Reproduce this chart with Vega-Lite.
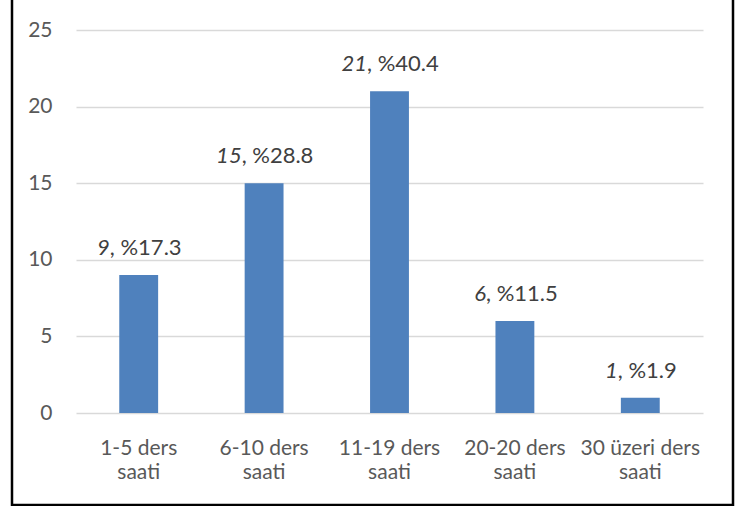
{
  "$schema": "https://vega.github.io/schema/vega-lite/v6.json",
  "width": 721,
  "height": 509,
  "autosize": {"type": "none"},
  "padding": {"left": 12, "top": -4, "right": 3, "bottom": 1},
  "background": "white",
  "config": {
    "view": {"stroke": "#000000", "strokeWidth": 2.5},
    "font": "Lato"
  },
  "data": {
    "values": [
      {"cat": "1-5 ders saati", "n": 9, "pctText": ", %17.3"},
      {"cat": "6-10 ders saati", "n": 15, "pctText": ", %28.8"},
      {"cat": "11-19 ders saati", "n": 21, "pctText": ", %40.4"},
      {"cat": "20-20 ders saati", "n": 6, "pctText": ", %11.5"},
      {"cat": "30 üzeri ders saati", "n": 1, "pctText": ", %1.9"}
    ]
  },
  "encoding": {
    "x": {
      "field": "cat",
      "type": "nominal",
      "sort": null,
      "scale": {"range": [64, 691], "paddingInner": 0.69, "paddingOuter": 0.345},
      "axis": {
        "title": null,
        "orient": "bottom",
        "offset": -92,
        "domain": false,
        "ticks": false,
        "labelAngle": 0,
        "labelFont": "Lato",
        "labelFontSize": 21,
        "labelColor": "#595959",
        "labelLineHeight": 24,
        "labelPadding": 24,
        "labelExpr": "[replace(datum.label, ' saati', ''), 'saati']"
      }
    },
    "y": {
      "field": "n",
      "type": "quantitative",
      "scale": {"domain": [0, 25], "range": [417, 34], "nice": false},
      "axis": {
        "title": null,
        "offset": -64,
        "values": [0, 5, 10, 15, 20, 25],
        "domain": false,
        "ticks": false,
        "labelFont": "Lato",
        "labelFontSize": 21,
        "labelColor": "#595959",
        "labelPadding": 24,
        "grid": true,
        "gridColor": "#d9d9d9",
        "gridWidth": 1.3
      }
    }
  },
  "layer": [
    {"mark": {"type": "bar", "color": "#4F81BD"}},
    {
      "mark": {
        "type": "text",
        "align": "right",
        "baseline": "alphabetic",
        "dy": -20,
        "font": "Lato",
        "fontSize": 22,
        "fontStyle": "italic",
        "color": "#404040",
        "dx": {"expr": "(length(toString(datum.n))*12.8 - 32.1 - (length(datum.pctText)-4)*12.8)/2"}
      },
      "encoding": {"text": {"field": "n", "type": "nominal"}}
    },
    {
      "mark": {
        "type": "text",
        "align": "left",
        "baseline": "alphabetic",
        "dy": -20,
        "font": "Lato",
        "fontSize": 22,
        "color": "#404040",
        "dx": {"expr": "(length(toString(datum.n))*12.8 - 32.1 - (length(datum.pctText)-4)*12.8)/2"}
      },
      "encoding": {"text": {"field": "pctText", "type": "nominal"}}
    }
  ]
}
